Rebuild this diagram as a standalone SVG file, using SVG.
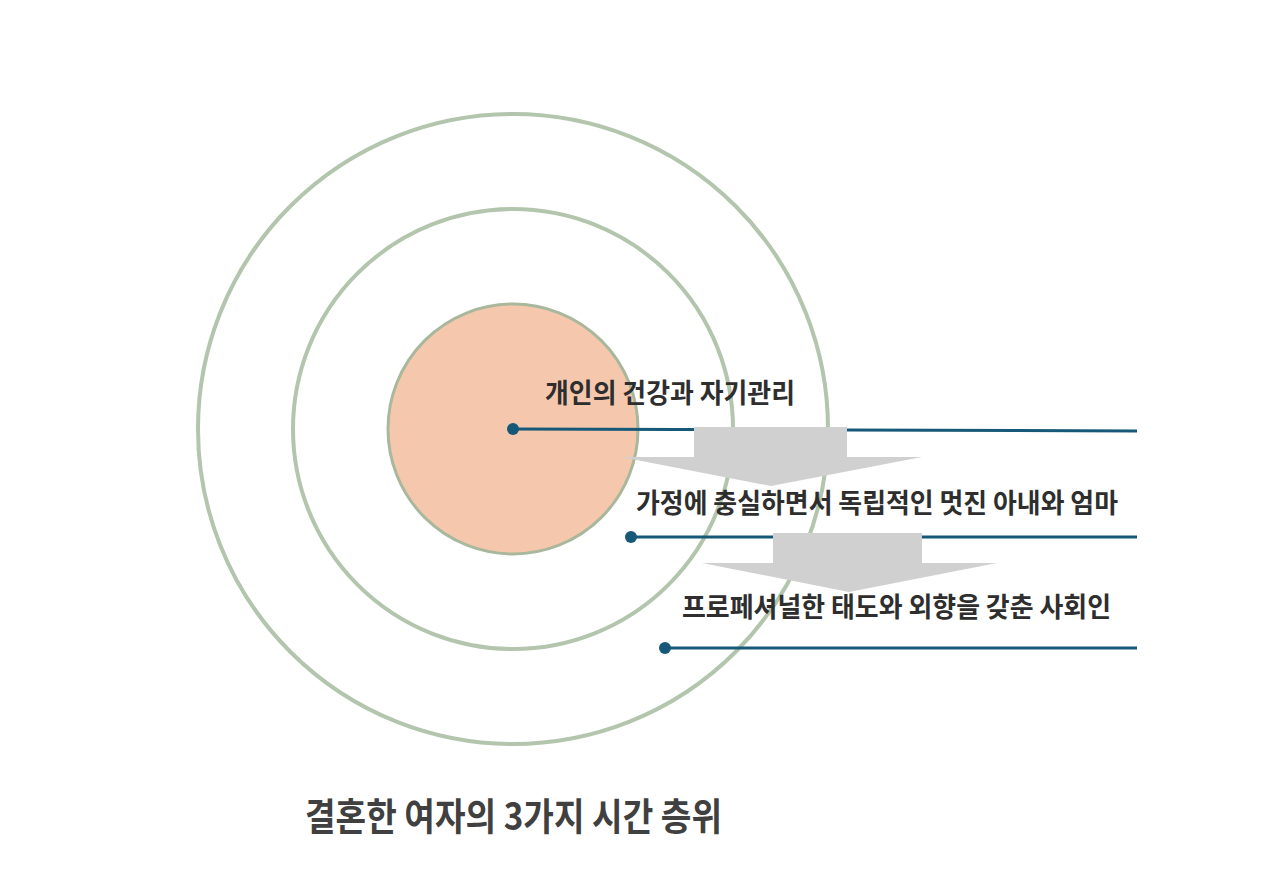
<svg xmlns="http://www.w3.org/2000/svg" width="1280" height="894" viewBox="0 0 1280 894">
<style>
.ring{fill:none;stroke:#B3C6AD;stroke-width:4}
.lbl{font-family:"Noto Sans CJK KR","Noto Sans",sans-serif;font-weight:bold;font-size:27px;fill:#2E2E2E}
.ttl{font-family:"Noto Sans CJK KR","Noto Sans",sans-serif;font-weight:bold;font-size:38px;fill:#404040}
.ln{stroke:#165877;stroke-width:3;fill:none}
.dot{fill:#165877}
.arr{fill:#D0D0D0}
</style>
<rect width="1280" height="894" fill="#ffffff"/>
<g id="ring-outer"><circle class="ring" cx="513" cy="429" r="315"/></g>
<g id="ring-middle"><circle class="ring" cx="513" cy="429" r="220"/></g>
<g id="ring-inner"><circle cx="513" cy="429" r="125" fill="#F5C8AE" stroke="#A9B89C" stroke-width="3"/></g>
<g id="connectors">
<line class="ln" x1="513" y1="429" x2="1137" y2="431"/>
<circle class="dot" cx="513" cy="429" r="6"/>
<line class="ln" x1="631" y1="537" x2="1137" y2="537"/>
<circle class="dot" cx="631" cy="537" r="6"/>
<line class="ln" x1="665" y1="648" x2="1137" y2="648"/>
<circle class="dot" cx="665" cy="648" r="6"/>
</g>
<g id="arrow1"><polygon class="arr" points="694,427 847,427 847,457 922,457 771,486 621,457 694,457"/></g>
<g id="arrow2"><polygon class="arr" points="773,533 922,533 922,563 997,563 849,592 702,563 773,563"/></g>
<g id="label1"><text class="lbl" x="545" y="403" textLength="250" lengthAdjust="spacingAndGlyphs">개인의 건강과 자기관리</text></g>
<g id="label2"><text class="lbl" x="636" y="513" textLength="482" lengthAdjust="spacingAndGlyphs">가정에 충실하면서 독립적인 멋진 아내와 엄마</text></g>
<g id="label3"><text class="lbl" x="682" y="617" textLength="429" lengthAdjust="spacingAndGlyphs">프로페셔널한 태도와 외향을 갖춘 사회인</text></g>
<g id="title"><text class="ttl" x="305" y="830" textLength="417" lengthAdjust="spacingAndGlyphs">결혼한 여자의 3가지 시간 층위</text></g>
</svg>
